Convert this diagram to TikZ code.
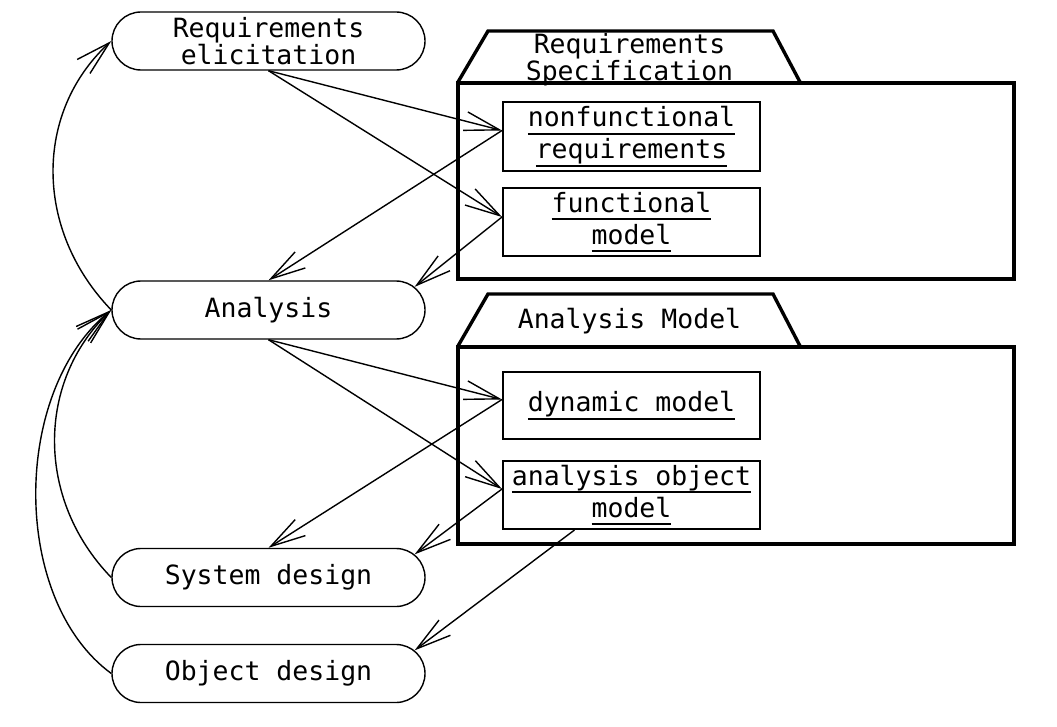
\documentclass[tikz,border=0pt]{standalone}
\usepackage{fontspec}
\newfontfamily\monofam{DejaVu Sans Mono}
\usetikzlibrary{shapes.misc,arrows.meta}
\newcommand\myul[1]{\leavevmode\setbox0=\hbox{#1}\rlap{\rule[-7.8pt]{\wd0}{1.6pt}}\box0}
\tikzset{
  act/.style={rounded rectangle, draw, line width=1.4pt, minimum width=313pt,
    minimum height=58pt, inner sep=0pt, align=center,
    font=\monofam\fontsize{26.5}{27}\selectfont},
  pkgbody/.style={rectangle, draw, line width=4pt, inner sep=0pt},
  pkgtab/.style={line width=3.4pt, line join=miter},
  pkglabel/.style={align=center, inner sep=0pt, font=\monofam\fontsize{26.5}{21}\selectfont},
  objbox/.style={rectangle, draw, line width=2pt, minimum width=257pt, inner sep=0pt,
    align=center, font=\monofam\fontsize{26.5}{32}\selectfont},
  arr/.style={line width=1.4pt, -{Straight Barb[length=35pt,width=19pt,line width=1.4pt]}}
}
\begin{document}
\begin{tikzpicture}[x=1pt,y=1pt]
\useasboundingbox (0,0) rectangle (1057,-727);
% activities
\node[act] (elic) at (268.5,-41) {Requirements\\elicitation};
\node[act] (ana) at (268.5,-310) {Analysis};
\node[act] (sys) at (268.5,-577.5) {System design};
\node[act] (obj) at (268.5,-673.5) {Object design};
% package: Requirements Specification
\node[pkgbody, minimum width=556pt, minimum height=196pt] (rs) at (736,-181) {};
\draw[pkgtab] (458,-82) -- (488,-31) -- (773,-31) -- (800,-82);
\node[pkglabel] (rslab) at (629.5,-60) {Requirements\\Specification};
\node[objbox, minimum height=69pt] (nf) at (631.5,-136.5) {\myul{nonfunctional}\\\myul{requirements}};
\node[objbox, minimum height=68pt] (fm) at (631.5,-222) {\myul{functional}\\\myul{model}};
% package: Analysis Model
\node[pkgbody, minimum width=556pt, minimum height=197pt] (am) at (736,-445.5) {};
\draw[pkgtab] (458,-346) -- (488,-294) -- (773,-294) -- (800,-346);
\node[pkglabel] (amlab) at (629.5,-321) {Analysis Model};
\node[objbox, minimum height=67pt] (dm) at (631.5,-405.5) {\myul{dynamic model}};
\node[objbox, minimum height=68pt] (aom) at (631.5,-495) {\myul{analysis object}\\\myul{model}};
% connectors
\draw[arr] (elic.south) -- ([yshift=6pt]nf.west);
\draw[arr] (elic.south) -- ([yshift=5pt]fm.west);
\draw[arr] ([yshift=6pt]nf.west) -- (ana.north);
\draw[arr] ([yshift=5pt]fm.west) -- (ana.9);
\draw[arr] (ana.south) -- ([yshift=6pt]dm.west);
\draw[arr] (ana.south) -- ([yshift=6pt]aom.west);
\draw[arr] ([yshift=6pt]dm.west) -- (sys.north);
\draw[arr] ([yshift=6pt]aom.west) -- (sys.9);
\draw[arr] ([xshift=-57pt]aom.south) -- (obj.9);
% feedback curves
\draw[arr] (ana.west) .. controls (34,-230) and (34,-112) .. (elic.west);
\draw[arr] (sys.west) .. controls (36,-500) and (36,-382) .. (ana.west);
\draw[arr] (obj.west) .. controls (11,-600) and (11,-392) .. (ana.west);
\end{tikzpicture}
\end{document}
